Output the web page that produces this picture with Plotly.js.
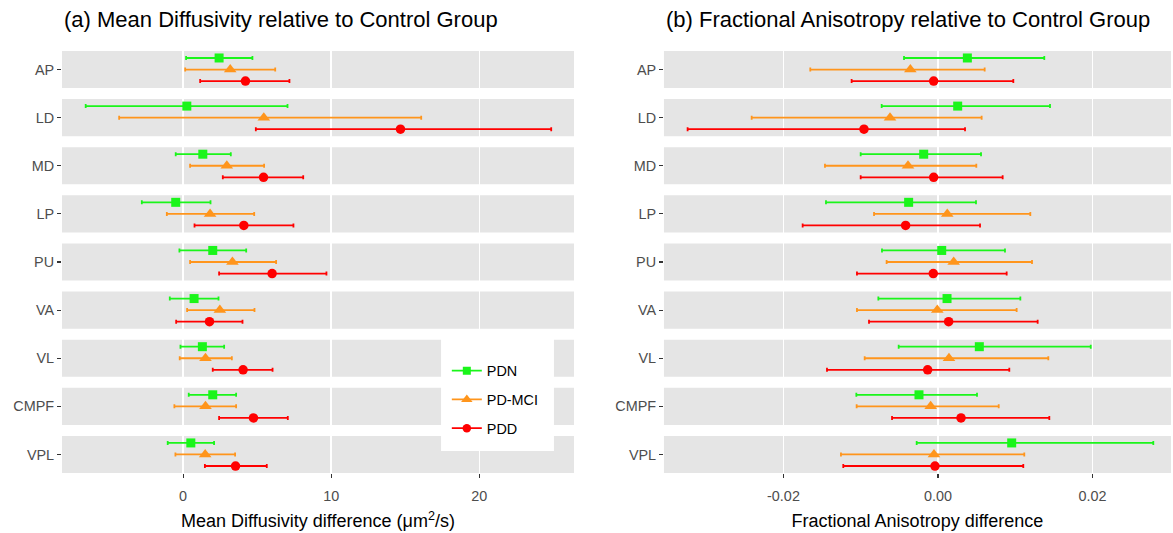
<!DOCTYPE html>
<html>
<head>
<meta charset="utf-8">
<script src="https://cdn.plot.ly/plotly-3.0.1.min.js"></script>
<style>html,body{margin:0;padding:0;background:#fff;}#chart{width:1173px;height:533px;}</style>
</head>
<body>
<div id="chart"></div>
<script>
// ---- data ----
const regions = ['AP','LD','MD','LP','PU','VA','VL','CMPF','VPL'];
const groups = ['PDN','PD-MCI','PDD'];

// Mean Diffusivity difference (um^2/s)
const md_PDN_est = [2.43, 0.25, 1.33, -0.50, 2.00, 0.74, 1.30, 2.00, 0.52];
const md_PDN_lo  = [0.20, -6.58, -0.50, -2.79, -0.25, -0.90, -0.18, 0.38, -1.04];
const md_PDN_hi  = [4.68, 7.05, 3.22, 1.85, 4.26, 2.39, 2.77, 3.58, 2.09];
const md_MCI_est = [3.18, 5.45, 2.95, 1.82, 3.33, 2.48, 1.51, 1.51, 1.49];
const md_MCI_lo  = [0.14, -4.32, 0.47, -1.10, 0.47, 0.27, -0.23, -0.59, -0.52];
const md_MCI_hi  = [6.22, 16.08, 5.47, 4.80, 6.28, 4.82, 3.29, 3.58, 3.51];
const md_PDD_est = [4.21, 14.68, 5.43, 4.10, 6.01, 1.78, 4.05, 4.75, 3.54];
const md_PDD_lo  = [1.15, 4.91, 2.68, 0.77, 2.43, -0.47, 2.00, 2.43, 1.47];
const md_PDD_hi  = [7.18, 24.86, 8.11, 7.45, 9.68, 4.01, 6.04, 7.07, 5.65];

// Fractional Anisotropy difference
const fa_PDN_est = [0.00380, 0.00255, -0.00185, -0.00380, 0.00048, 0.00117, 0.00535, -0.00246, 0.00954];
const fa_PDN_lo  = [-0.00440, -0.00729, -0.01001, -0.01450, -0.00725, -0.00772, -0.00509, -0.01057, -0.00276];
const fa_PDN_hi  = [0.01376, 0.01450, 0.00557, 0.00492, 0.00867, 0.01066, 0.01977, 0.00505, 0.02787];
const fa_MCI_est = [-0.00358, -0.00621, -0.00388, 0.00120, 0.00203, -0.00009, 0.00142, -0.00095, -0.00052];
const fa_MCI_lo  = [-0.01653, -0.02412, -0.01463, -0.00828, -0.00665, -0.01049, -0.00949, -0.01053, -0.01256];
const fa_MCI_hi  = [0.00604, 0.00565, 0.00496, 0.01195, 0.01217, 0.01018, 0.01428, 0.00786, 0.01117];
const fa_PDD_est = [-0.00056, -0.00958, -0.00056, -0.00419, -0.00061, 0.00138, -0.00134, 0.00298, -0.00039];
const fa_PDD_lo  = [-0.01118, -0.03241, -0.01001, -0.01752, -0.01049, -0.00893, -0.01437, -0.00595, -0.01226];
const fa_PDD_hi  = [0.00975, 0.00350, 0.00837, 0.00544, 0.00889, 0.01290, 0.00923, 0.01441, 0.01104];

const md_xticks = [0, 10, 20];
const md_xticktext = ['0', '10', '20'];
const fa_xticks = [-0.02, 0, 0.02];
const fa_xticktext = ['-0.02', '0.00', '0.02'];

// ---- styling ----
const colors = {'PDN': '#1AF51A', 'PD-MCI': '#FF951C', 'PDD': '#FF0000'};
const symbols = {'PDN': 'square', 'PD-MCI': 'triangle-up', 'PDD': 'circle'};
const msize = {'PDN': 9, 'PD-MCI': 11, 'PDD': 9.5};
const offsets = {'PDN': -0.24, 'PD-MCI': 0, 'PDD': 0.24};
const FONT = 'Liberation Sans, Arial, sans-serif';

const mdSets = {'PDN': [md_PDN_est, md_PDN_lo, md_PDN_hi], 'PD-MCI': [md_MCI_est, md_MCI_lo, md_MCI_hi], 'PDD': [md_PDD_est, md_PDD_lo, md_PDD_hi]};
const faSets = {'PDN': [fa_PDN_est, fa_PDN_lo, fa_PDN_hi], 'PD-MCI': [fa_MCI_est, fa_MCI_lo, fa_MCI_hi], 'PDD': [fa_PDD_est, fa_PDD_lo, fa_PDD_hi]};

function makeTrace(g, set, xa, ya) {
  const [est, lo, hi] = set;
  return {
    type: 'scatter', mode: 'markers', xaxis: xa, yaxis: ya, name: g, showlegend: false,
    x: est,
    y: regions.map((r, i) => i + offsets[g]),
    marker: {symbol: symbols[g], size: msize[g], color: colors[g]},
    error_x: {type: 'data', symmetric: false,
      array: est.map((v, i) => hi[i] - v),
      arrayminus: est.map((v, i) => v - lo[i]),
      color: colors[g], thickness: 1.8, width: 2},
    hoverinfo: 'x+name'
  };
}

const traces = [];
groups.forEach(g => traces.push(makeTrace(g, mdSets[g], 'x', 'y')));
groups.forEach(g => traces.push(makeTrace(g, faSets[g], 'x2', 'y2')));
// legend entries
groups.forEach((g, k) => traces.push({
  type: 'scatter', mode: 'lines+markers', x: [null], y: [null], name: g,
  legendgroup: 'g' + k, showlegend: true,
  line: {color: colors[g], width: 1.8},
  marker: {symbol: symbols[g], size: msize[g] - 1, color: colors[g]}
}));

const half = 0.385;
const shapes = [];
['', '2'].forEach(s => {
  regions.forEach((r, i) => shapes.push({
    type: 'rect', layer: 'below', xref: 'x' + s + ' domain', yref: 'y' + s,
    x0: 0, x1: 1, y0: i - half, y1: i + half,
    fillcolor: '#E5E5E5', line: {width: 0}
  }));
});
// legend box
shapes.push({type: 'rect', layer: 'above', xref: 'paper', yref: 'paper',
  x0: 0.3418, x1: 0.4436, y0: 0.0521, y1: 0.3175, fillcolor: '#FFFFFF', line: {width: 0}});

const yax = {
  range: [regions.length - 1 + half, -half], tickvals: regions.map((r, i) => i), ticktext: regions,
  showgrid: false, zeroline: false, ticks: 'outside', ticklen: 4, tickwidth: 1.2, tickcolor: '#333333',
  tickfont: {size: 14.4, color: '#4D4D4D', family: FONT}, showline: false, fixedrange: true
};
const xax = {
  showgrid: true, gridcolor: '#FFFFFF', gridwidth: 1.4, zeroline: false, showline: false,
  ticks: 'outside', ticklen: 4, tickwidth: 1.2, tickcolor: '#333333', ticklabelstandoff: 6,
  tickfont: {size: 14.4, color: '#4D4D4D', family: FONT}
};

const layout = {
  width: 1173, height: 533,
  margin: {l: 62, r: 2, t: 51, b: 60},
  paper_bgcolor: '#FFFFFF', plot_bgcolor: '#FFFFFF',
  font: {family: FONT, color: '#000000'},
  showlegend: true,
  legend: {x: 0.347, xanchor: 'left', y: 0.280, yanchor: 'top', bgcolor: 'rgba(0,0,0,0)',
    font: {size: 14.4, color: '#000000', family: FONT}, tracegroupgap: 7, itemwidth: 30},
  xaxis: Object.assign({}, xax, {domain: [0, 0.4617], anchor: 'y', range: [-8.18, 26.4],
    tickvals: md_xticks, ticktext: md_xticktext,
    title: {text: 'Mean Diffusivity difference (\u03BCm<sup>2</sup>/s)', font: {size: 18, color: '#000000', family: FONT}, standoff: 11}}),
  yaxis: Object.assign({}, yax, {domain: [0, 1], anchor: 'x'}),
  xaxis2: Object.assign({}, xax, {domain: [0.5428, 1], anchor: 'y2', range: [-0.03547, 0.03016],
    tickvals: fa_xticks, ticktext: fa_xticktext,
    title: {text: 'Fractional Anisotropy difference', font: {size: 18, color: '#000000', family: FONT}, standoff: 11}}),
  yaxis2: Object.assign({}, yax, {domain: [0, 1], anchor: 'x2'}),
  shapes: shapes,
  annotations: [
    {text: '(a) Mean Diffusivity relative to Control Group', xref: 'paper', yref: 'paper',
      x: 0, y: 1.0735, xanchor: 'left', yanchor: 'middle', showarrow: false,
      font: {size: 22, color: '#000000', family: FONT}},
    {text: '(b) Fractional Anisotropy relative to Control Group', xref: 'paper', yref: 'paper',
      x: 0.5428, y: 1.0735, xanchor: 'left', yanchor: 'middle', showarrow: false,
      font: {size: 22, color: '#000000', family: FONT}}
  ]
};

Plotly.newPlot('chart', traces, layout, {displayModeBar: false, staticPlot: true});
</script>
</body>
</html>
